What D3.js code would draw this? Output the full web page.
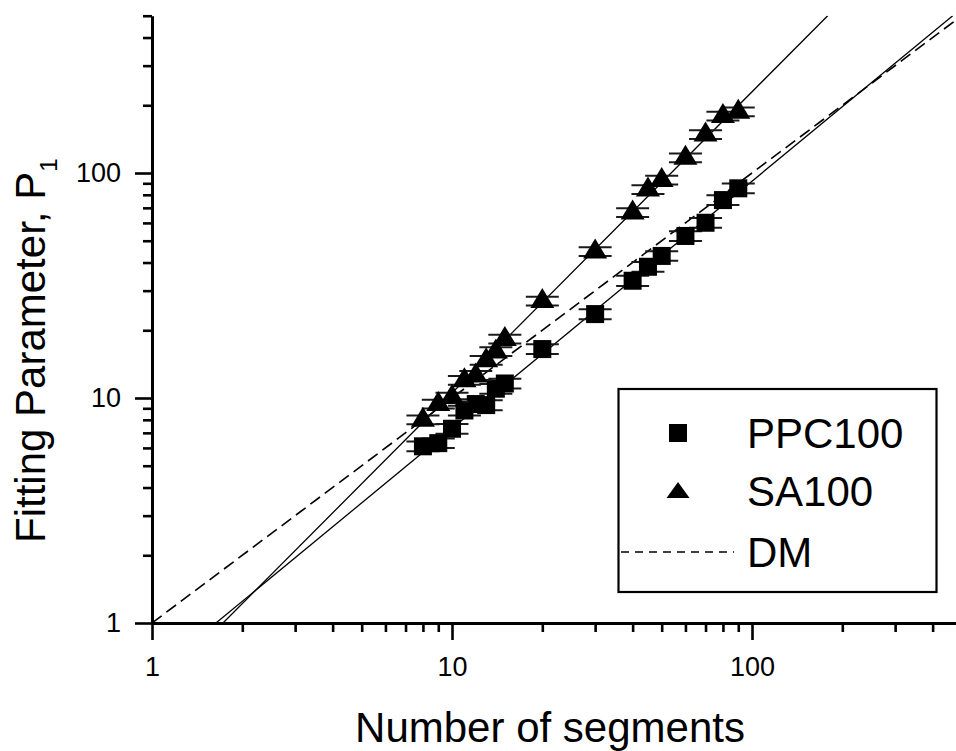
<!DOCTYPE html>
<html>
<head>
<meta charset="utf-8">
<script src="https://cdn.jsdelivr.net/npm/d3@7"></script>
<style>
  html, body { margin: 0; padding: 0; background: #fff; }
  svg { display: block; font-family: "Liberation Sans", Arial, Helvetica, sans-serif; }
</style>
</head>
<body>
<svg id="chart" width="956" height="751"></svg>
<script>
// Number of segments (shared by both series)
const segments = [8, 9, 10, 11, 12, 13, 14, 15, 20, 30, 40, 45, 50, 60, 70, 80, 90];

// Fitting parameter P1 for each sample, with its uncertainty
const ppc100    = [6.1, 6.3, 7.3, 8.8, 9.4, 9.3, 11.0, 11.6, 16.5, 23.6, 33.2, 38.3, 42.8, 52.5, 60.1, 75.8, 85.5];
const ppc100Err = [0.3, 0.3, 0.37, 0.44, 0.47, 0.47, 0.55, 0.58, 0.83, 1.2, 1.7, 1.9, 2.1, 2.6, 3.0, 3.8, 4.3];
const sa100     = [8.0, 9.4, 10.1, 12.0, 12.6, 14.7, 16.1, 18.3, 27.0, 44.8, 66.7, 84.5, 93.1, 116.9, 148.3, 179.2, 187.2];
const sa100Err  = [0.36, 0.42, 0.45, 0.54, 0.57, 0.66, 0.72, 0.82, 1.2, 2.0, 3.0, 3.8, 4.2, 5.3, 6.7, 8.1, 8.4];

// Power-law lines P1 = A * N^b
const lineNames      = ["PPC100 fit", "SA100 fit", "DM"];
const linePrefactors = [0.583, 0.482, 1.0];
const lineExponents  = [1.099, 1.339, 1.0];
const lineDashed     = [false, false, true];

// Axis ticks
const xMajorTicks = [1, 10, 100];
const xMinorTicks = [2, 3, 4, 5, 6, 7, 8, 9, 20, 30, 40, 50, 60, 70, 80, 90, 200, 300, 400, 500];
const yMajorTicks = [1, 10, 100];
const yMinorTicks = [2, 3, 4, 5, 6, 7, 8, 9, 20, 30, 40, 50, 60, 70, 80, 90, 200, 300, 400, 500];

const legendLabels = ["PPC100", "SA100", "DM"];

const svg = d3.select("#chart");

const x0 = 152, y0 = 623;
const x = d3.scaleLog().domain([1, 500]).range([x0, x0 + 300 * Math.log10(500)]);
const y = d3.scaleLog().domain([1, 500]).range([y0, y0 - 225 * Math.log10(500)]);

// Clip region for the plotting area
svg.append("defs").append("clipPath").attr("id", "plotClip")
  .append("rect")
  .attr("x", x0).attr("y", y(500))
  .attr("width", x(500) - x0).attr("height", y0 - y(500));

// ---- Power-law lines ----
const linesG = svg.append("g").attr("clip-path", "url(#plotClip)");
lineNames.forEach((name, i) => {
  const A = linePrefactors[i], b = lineExponents[i];
  const nStart = Math.pow(1 / A, 1 / b);
  const nEnd = Math.min(500, Math.pow(500 / A, 1 / b));
  linesG.append("line")
    .attr("x1", x(nStart)).attr("y1", y(A * Math.pow(nStart, b)))
    .attr("x2", x(nEnd)).attr("y2", y(A * Math.pow(nEnd, b)))
    .attr("stroke", "#000")
    .attr("stroke-width", lineDashed[i] ? 1.6 : 1.3)
    .attr("stroke-dasharray", lineDashed[i] ? "12,6" : null);
});

// ---- Error bars and markers ----
const sq = 18;
const triPath = "M0,-13L12,7L-12,7Z";
const capHalf = 16.5;

function drawSeries(vals, errs, shape) {
  const g = svg.append("g");
  const pts = segments.map((n, i) => ({ n, v: vals[i], e: errs[i] }));
  const eb = g.selectAll("g.eb").data(pts).enter().append("g")
    .attr("stroke", "#1a1a1a").attr("stroke-width", 2);
  eb.append("line")
    .attr("x1", d => x(d.n)).attr("x2", d => x(d.n))
    .attr("y1", d => y(d.v + d.e)).attr("y2", d => y(d.v - d.e));
  eb.append("line")
    .attr("x1", d => x(d.n) - capHalf).attr("x2", d => x(d.n) + capHalf)
    .attr("y1", d => y(d.v + d.e)).attr("y2", d => y(d.v + d.e));
  eb.append("line")
    .attr("x1", d => x(d.n) - capHalf).attr("x2", d => x(d.n) + capHalf)
    .attr("y1", d => y(d.v - d.e)).attr("y2", d => y(d.v - d.e));
  if (shape === "square") {
    g.selectAll("rect.m").data(pts).enter().append("rect")
      .attr("x", d => x(d.n) - sq / 2).attr("y", d => y(d.v) - sq / 2)
      .attr("width", sq).attr("height", sq).attr("fill", "#000");
  } else {
    g.selectAll("path.m").data(pts).enter().append("path")
      .attr("d", triPath)
      .attr("transform", d => `translate(${x(d.n)},${y(d.v)})`)
      .attr("fill", "#000");
  }
}
drawSeries(ppc100, ppc100Err, "square");
drawSeries(sa100, sa100Err, "triangle");

// ---- Axes ----
const fmt = d3.format("d");
const xAxisG = svg.append("g").attr("transform", `translate(0,${y0})`);
xAxisG.call(d3.axisBottom(x).tickValues(xMajorTicks).tickFormat(fmt)
  .tickSize(17).tickSizeOuter(0).tickPadding(17));
const xMinorG = svg.append("g").attr("transform", `translate(0,${y0})`);
xMinorG.call(d3.axisBottom(x).tickValues(xMinorTicks).tickFormat("").tickSize(9).tickSizeOuter(0));
xMinorG.select(".domain").remove();

const yAxisG = svg.append("g").attr("transform", `translate(${x0},0)`);
yAxisG.call(d3.axisLeft(y).tickValues(yMajorTicks).tickFormat(fmt)
  .tickSize(17).tickSizeOuter(0).tickPadding(14));
const yMinorG = svg.append("g").attr("transform", `translate(${x0},0)`);
yMinorG.call(d3.axisLeft(y).tickValues(yMinorTicks).tickFormat("").tickSize(9).tickSizeOuter(0));
yMinorG.select(".domain").remove();

svg.selectAll(".domain").attr("stroke", "#000").attr("stroke-width", 3);
svg.selectAll(".tick line").attr("stroke", "#000").attr("stroke-width", 2.6);
svg.selectAll(".tick text").attr("font-size", 27).attr("fill", "#000")
  .attr("font-family", "\"Liberation Sans\", Arial, sans-serif");

// ---- Axis titles ----
svg.append("text")
  .attr("x", 550).attr("y", 742)
  .attr("text-anchor", "middle")
  .attr("font-size", 42)
  .text("Number of segments");

const yTitle = svg.append("text")
  .attr("transform", "translate(45,543) rotate(-90)")
  .attr("font-size", 42);
yTitle.append("tspan").text("Fitting Parameter, P");
yTitle.append("tspan").attr("font-size", 24).attr("dy", 12).text("1");

// ---- Legend ----
const lg = svg.append("g");
lg.append("rect")
  .attr("x", 618.5).attr("y", 389).attr("width", 318).attr("height", 203)
  .attr("fill", "#fff").attr("stroke", "#000").attr("stroke-width", 2.2);
const rowsY = [433, 491, 552];
lg.append("rect").attr("x", 678 - sq / 2).attr("y", rowsY[0] - sq / 2)
  .attr("width", sq).attr("height", sq).attr("fill", "#000");
lg.append("path").attr("d", "M0,-9L11.5,7L-11.5,7Z")
  .attr("transform", `translate(678,${rowsY[1]})`).attr("fill", "#000");
lg.append("line").attr("x1", 621).attr("x2", 734)
  .attr("y1", rowsY[2]).attr("y2", rowsY[2])
  .attr("stroke", "#000").attr("stroke-width", 1.5).attr("stroke-dasharray", "8,6");
lg.selectAll("text.lbl").data(legendLabels).enter().append("text")
  .attr("x", 747).attr("y", (d, i) => rowsY[i] + 14.5)
  .attr("font-size", 42)
  .text(d => d);
</script>
</body>
</html>
